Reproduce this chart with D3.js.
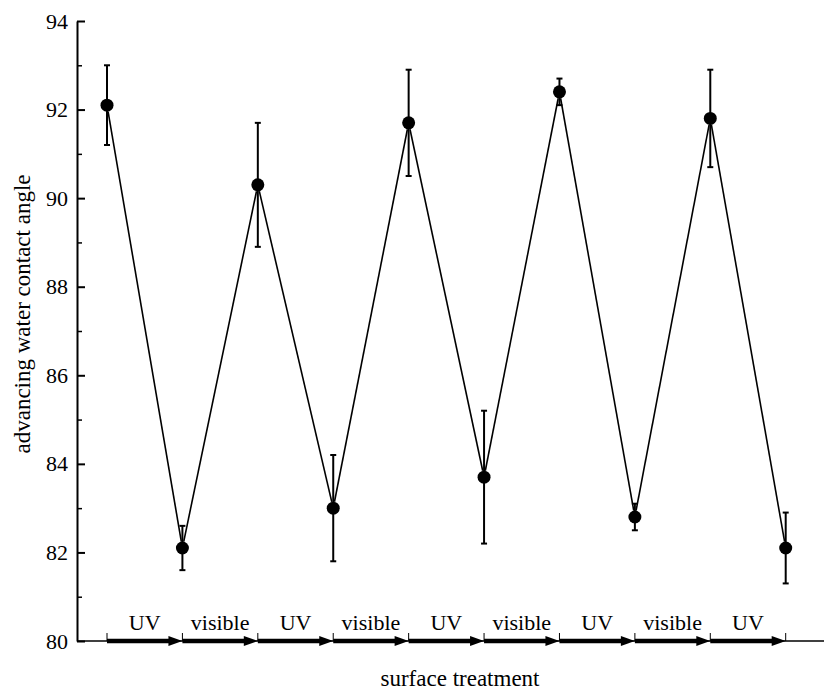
<!DOCTYPE html>
<html>
<head>
<meta charset="utf-8">
<script src="https://cdn.jsdelivr.net/npm/d3@7"></script>
<style>
  body { margin: 0; background: #fff; }
</style>
</head>
<body>
<svg width="824" height="691"></svg>
<script>
// measured contact angles after each alternate exposure
let angles = [92.1, 82.1, 90.3, 83.0, 91.7, 83.7, 92.4, 82.8, 91.8, 82.1];
let errors = [0.9, 0.5, 1.4, 1.2, 1.2, 1.5, 0.3, 0.3, 1.1, 0.8];
let treatments = ['UV', 'visible', 'UV', 'visible', 'UV', 'visible', 'UV', 'visible', 'UV'];
let majorTicks = [80, 82, 84, 86, 88, 90, 92, 94];
let minorTicks = [81, 83, 85, 87, 89, 91, 93];

let svg = d3.select('svg');
let fontSize = 22;
let serif = "'Liberation Serif'";

let x = d3.scaleLinear().domain([0, 9]).range([107, 785.7]);
let y = d3.scaleLinear().domain([80, 94]).range([641, 21]);
let axisX = 77;
let r = 6.5;

// y axis, ticks pointing inwards
let yAxis = svg.append('g')
  .attr('transform', 'translate(' + axisX + ',0)')
  .call(d3.axisLeft(y).tickValues(majorTicks).tickSizeInner(-8).tickSizeOuter(0).tickPadding(9));
yAxis.select('.domain').attr('stroke-width', 2);
yAxis.selectAll('.tick line').attr('stroke-width', 2);
yAxis.selectAll('.tick text')
  .style('font-family', serif)
  .style('font-size', fontSize + 'px');

let yMinor = svg.append('g')
  .attr('transform', 'translate(' + axisX + ',0)')
  .call(d3.axisLeft(y).tickValues(minorTicks).tickSize(-5).tickFormat(''));
yMinor.select('.domain').remove();
yMinor.selectAll('.tick line').attr('stroke-width', 1.5);

svg.append('text')
  .attr('transform', 'translate(30,' + 314 + ') rotate(-90)')
  .attr('text-anchor', 'middle')
  .style('font-family', serif)
  .style('font-size', '23px')
  .text('advancing water contact angle');

// bottom line
svg.append('line')
  .attr('x1', axisX).attr('x2', 824)
  .attr('y1', y(80)).attr('y2', y(80))
  .attr('stroke', '#000').attr('stroke-width', 1.5);

// treatment arrows
let arrowLen = 14;
let arrows = svg.append('g');
treatments.forEach(function (t, i) {
  let x0 = x(i), x1 = x(i + 1), y0 = y(80);
  arrows.append('line')
    .attr('x1', x0).attr('x2', x1 - arrowLen + 1)
    .attr('y1', y0).attr('y2', y0)
    .attr('stroke', '#000').attr('stroke-width', 4.5);
  arrows.append('path')
    .attr('d', 'M' + x1 + ',' + y0 + 'L' + (x1 - arrowLen) + ',' + (y0 - 5) + 'L' + (x1 - arrowLen) + ',' + (y0 + 5) + 'Z')
    .attr('fill', '#000');
  arrows.append('text')
    .attr('x', (x0 + x1) / 2)
    .attr('y', 630)
    .attr('text-anchor', 'middle')
    .style('font-family', serif)
    .style('font-size', fontSize + 'px')
    .text(t);
});
angles.forEach(function (a, i) {
  arrows.append('line')
    .attr('x1', x(i)).attr('x2', x(i))
    .attr('y1', y(80) - 8).attr('y2', y(80))
    .attr('stroke', '#000').attr('stroke-width', 1);
});

svg.append('text')
  .attr('x', 460)
  .attr('y', 686)
  .attr('text-anchor', 'middle')
  .style('font-family', serif)
  .style('font-size', '23px')
  .text('surface treatment');

// connecting line, with a gap round each marker
let lines = svg.append('g');
for (let i = 0; i < angles.length - 1; i++) {
  let ax = x(i), ay = y(angles[i]), bx = x(i + 1), by = y(angles[i + 1]);
  let len = Math.sqrt(Math.pow(bx - ax, 2) + Math.pow(by - ay, 2));
  let ux = (bx - ax) / len, uy = (by - ay) / len;
  lines.append('line')
    .attr('x1', ax + ux * r).attr('y1', ay + uy * r)
    .attr('x2', bx - ux * r).attr('y2', by - uy * r)
    .attr('stroke', '#000').attr('stroke-width', 1.6);
}

// error bars
let bars = svg.append('g').selectAll('g').data(angles).join('g');
bars.append('line')
  .attr('x1', (d, i) => x(i)).attr('x2', (d, i) => x(i))
  .attr('y1', (d, i) => y(d + errors[i])).attr('y2', (d, i) => y(d - errors[i]))
  .attr('stroke', '#000').attr('stroke-width', 2);
bars.append('line')
  .attr('x1', (d, i) => x(i) - 3).attr('x2', (d, i) => x(i) + 3)
  .attr('y1', (d, i) => y(d + errors[i])).attr('y2', (d, i) => y(d + errors[i]))
  .attr('stroke', '#000').attr('stroke-width', 2);
bars.append('line')
  .attr('x1', (d, i) => x(i) - 3).attr('x2', (d, i) => x(i) + 3)
  .attr('y1', (d, i) => y(d - errors[i])).attr('y2', (d, i) => y(d - errors[i]))
  .attr('stroke', '#000').attr('stroke-width', 2);

svg.append('g').selectAll('circle').data(angles).join('circle')
  .attr('cx', (d, i) => x(i))
  .attr('cy', d => y(d))
  .attr('r', r)
  .attr('fill', '#000');
</script>
</body>
</html>
